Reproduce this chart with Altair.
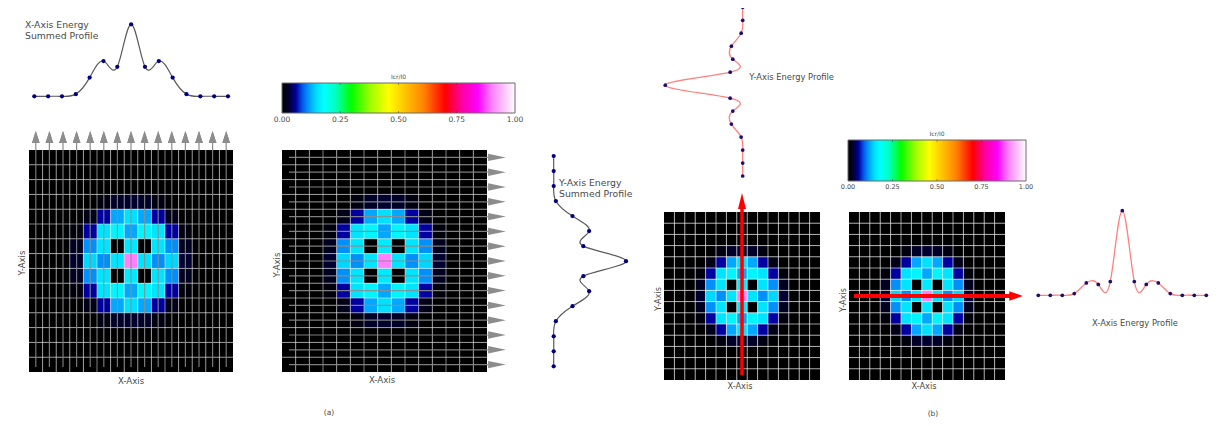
import altair as alt
import pandas as pd

# ---------- values ----------
GRID = [
 [0,0,0,0,0,0,0,0,0,0,0,0,0,0,0],
 [0,0,0,0,0,0,0,0,0,0,0,0,0,0,0],
 [0,0,0,0,0,0,0,0,0,0,0,0,0,0,0],
 [0,0,0,0,0,.01,.025,.03,.025,.01,0,0,0,0,0],
 [0,0,0,0,.015,.06,.12,.15,.12,.06,.015,0,0,0,0],
 [0,0,0,.008,.06,.155,.17,.12,.17,.155,.06,.008,0,0,0],
 [0,0,0,.02,.11,.155,0,.16,0,.155,.11,.02,0,0,0],
 [0,0,0,.03,.145,.11,.155,.90,.155,.11,.145,.03,0,0,0],
 [0,0,0,.02,.11,.155,0,.16,0,.155,.11,.02,0,0,0],
 [0,0,0,.008,.06,.155,.17,.12,.17,.155,.06,.008,0,0,0],
 [0,0,0,0,.015,.06,.12,.15,.12,.06,.015,0,0,0,0],
 [0,0,0,0,0,.01,.025,.03,.025,.01,0,0,0,0,0],
 [0,0,0,0,0,0,0,0,0,0,0,0,0,0,0],
 [0,0,0,0,0,0,0,0,0,0,0,0,0,0,0],
 [0,0,0,0,0,0,0,0,0,0,0,0,0,0,0],
]
SUMMED = [0,0,0,.03,.26,.49,.41,1,.41,.49,.26,.03,0,0,0]
CENTRE = [0,0,0,.02,.146,.128,.162,1,.162,.128,.146,.02,0,0,0]
INDEX = list(range(15))
CB_TICKS = [0, .25, .5, .75, 1]
CB_LABELS = ["0.00", "0.25", "0.50", "0.75", "1.00"]
CMAP_AT = [0,.03,.06,.09,.12,.15,.18,.23,.297,.38,.457,.61,.70,.77,.84,.90,1]
CMAP_COL = ["#000000","#000030","#0000a0","#0060f0","#00a8ff","#00e0ff","#00ffff","#00ffc0",
            "#00ff00","#a0ff00","#ffff00","#ff8000","#ff0000","#ff00a0","#ff00ff","#ff80ff","#ffffff"]
FONT = "DejaVu Sans"
TEXTC = "#4a4a4a"
OFF = 8


def P(v):
    return v - OFF


def xs(a, b, dom=(0, 15)):
    return alt.Scale(domain=list(dom), range=[P(a), P(b)], nice=False, zero=False)


layers = []
cells = pd.DataFrame([{"c": c, "c2": c + 1, "r": r, "r2": r + 1, "v": float(GRID[r][c])}
                      for r in INDEX for c in INDEX])
bounds = pd.DataFrame({"b": list(range(16))})
centres = pd.DataFrame({"m": [i + .5 for i in INDEX]})
middle = pd.DataFrame({"m": [7.5]})
color = alt.Color("v:Q", legend=None, scale=alt.Scale(domain=CMAP_AT, range=CMAP_COL, interpolate="rgb"))
gradient = alt.Gradient(gradient="linear", x1=0, x2=1, y1=0, y2=0,
                        stops=[alt.GradientStop(color=c, offset=o) for o, c in zip(CMAP_AT, CMAP_COL)])


def heat(x0, x1, y0, y1, lw=1.0, op=.5):
    X = xs(x0, x1)
    Y = xs(y0, y1)
    layers.append(alt.Chart(cells).mark_rect(strokeWidth=0, opacity=1).encode(
        x=alt.X("c:Q", scale=X, axis=None), x2="c2:Q",
        y=alt.Y("r:Q", scale=Y, axis=None), y2="r2:Q", color=color))
    layers.append(alt.Chart(bounds[1:-1]).mark_rule(color="#ffffff", opacity=op, strokeWidth=lw).encode(
        x=alt.X("b:Q", scale=X, axis=None), y=alt.value(P(y0)), y2=alt.value(P(y1))))
    layers.append(alt.Chart(bounds[1:-1]).mark_rule(color="#ffffff", opacity=op, strokeWidth=lw).encode(
        y=alt.Y("b:Q", scale=Y, axis=None), x=alt.value(P(x0)), x2=alt.value(P(x1))))


def up_arrows(data, x0, x1, y_tail, y_stem, y_head, col, w, path, size, op=1):
    X = xs(x0, x1)
    layers.append(alt.Chart(data).mark_rule(color=col, strokeWidth=w, opacity=op).encode(
        x=alt.X("m:Q", scale=X, axis=None), y=alt.value(P(y_tail)), y2=alt.value(P(y_stem))))
    layers.append(alt.Chart(data).mark_point(shape=path, filled=True, color=col, size=size, opacity=1).encode(
        x=alt.X("m:Q", scale=X, axis=None), y=alt.value(P(y_head))))


def right_arrows(data, y0, y1, x_tail, x_stem, x_head, col, w, path, size, op=1):
    Y = xs(y0, y1)
    layers.append(alt.Chart(data).mark_rule(color=col, strokeWidth=w, opacity=op).encode(
        y=alt.Y("m:Q", scale=Y, axis=None), x=alt.value(P(x_tail)), x2=alt.value(P(x_stem))))
    layers.append(alt.Chart(data).mark_point(shape=path, filled=True, color=col, size=size, opacity=1).encode(
        y=alt.Y("m:Q", scale=Y, axis=None), x=alt.value(P(x_head))))


def profile_h(vals, x0, x1, ybase, ypeak, lc, dc, ds, lw):
    df = pd.DataFrame({"i": INDEX, "v": vals})
    X = xs(x0, x1, (0, 14))
    Y = xs(ybase, ypeak, (0, 1))
    layers.append(alt.Chart(df).mark_line(interpolate="natural", color=lc, strokeWidth=lw).encode(
        x=alt.X("i:Q", scale=X, axis=None), y=alt.Y("v:Q", scale=Y, axis=None), order="i:Q"))
    layers.append(alt.Chart(df).mark_circle(color=dc, size=ds, opacity=1).encode(
        x=alt.X("i:Q", scale=X, axis=None), y=alt.Y("v:Q", scale=Y, axis=None)))


def profile_v(vals, y0, y1, xbase, xpeak, lc, dc, ds, lw):
    df = pd.DataFrame({"i": INDEX, "v": vals})
    Y = xs(y0, y1, (0, 14))
    X = xs(xbase, xpeak, (0, 1))
    layers.append(alt.Chart(df).mark_line(interpolate="natural", color=lc, strokeWidth=lw).encode(
        x=alt.X("v:Q", scale=X, axis=None), y=alt.Y("i:Q", scale=Y, axis=None), order="i:Q"))
    layers.append(alt.Chart(df).mark_circle(color=dc, size=ds, opacity=1).encode(
        x=alt.X("v:Q", scale=X, axis=None), y=alt.Y("i:Q", scale=Y, axis=None)))


def label(t, x, y, size, angle=0, align="center", col=TEXTC):
    layers.append(alt.Chart(pd.DataFrame({"t": [t]})).mark_text(
        font=FONT, fontSize=size, color=col, angle=angle, align=align, baseline="middle").encode(
        x=alt.value(P(x)), y=alt.value(P(y)), text="t:N"))


def colorbar(x0, x1, y0, y1, ylab, ytitle, size, tsize):
    X = xs(x0, x1, (0, 1))
    box = pd.DataFrame({"a": [0], "b": [1]})
    layers.append(alt.Chart(box).mark_rect(fill=gradient, stroke="#6a6a6a", strokeWidth=1).encode(
        x=alt.X("a:Q", scale=X, axis=None), x2="b:Q", y=alt.value(P(y0)), y2=alt.value(P(y1))))
    ticks = pd.DataFrame({"v": CB_TICKS, "t": CB_LABELS})
    layers.append(alt.Chart(ticks[1:-1]).mark_rule(color="#333333", opacity=.6, strokeWidth=.7).encode(
        x=alt.X("v:Q", scale=X, axis=None), y=alt.value(P(y0)), y2=alt.value(P(y0 + 2))))
    layers.append(alt.Chart(ticks[1:-1]).mark_rule(color="#333333", opacity=.6, strokeWidth=.7).encode(
        x=alt.X("v:Q", scale=X, axis=None), y=alt.value(P(y1 - 2)), y2=alt.value(P(y1))))
    layers.append(alt.Chart(ticks).mark_text(font=FONT, fontSize=size, color=TEXTC, baseline="middle").encode(
        x=alt.X("v:Q", scale=X, axis=None), y=alt.value(P(ylab)), text="t:N"))
    label("Icr/I0", (x0 + x1) / 2, ytitle, tsize)


UP = "M -0.64 1 L 0.64 1 L 0 -1 Z"
RIGHT = "M -1 -0.42 L 1 0 L -1 0.42 Z"
RED_UP = "M -0.5 1 L 0.5 1 L 0 -1 Z"
RED_RIGHT = "M -1 -0.72 L 1 0 L -1 0.72 Z"

# (a) left panel
up_arrows(centres, 29, 233, 367, 142, 137, "#8c8c8c", 1.2, UP, 144)
heat(29, 233, 150, 372)
up_arrows(centres, 29, 233, 367, 150, 137, "#8c8c8c", 1.2, UP, 144, op=.85)
profile_h(SUMMED, 34.3, 228, 96.3, 24.3, "#5a5a5a", "#000080", 18, 1.2)
label("X-Axis Energy", 25, 25, 9.3, align="left")
label("Summed Profile", 25, 35.5, 9.3, align="left")
label("X-Axis", 131, 381, 8.6)
label("Y-Axis", 22, 263, 8.6, angle=270)

# (a) right panel
colorbar(282, 515, 83, 113, 120, 76.5, 7.5, 6)
heat(282, 487, 150, 372)
right_arrows(centres, 150, 372, 289, 492, 497, "#8c8c8c", 1.2, RIGHT, 313, op=.9)
profile_v(SUMMED, 156, 366.3, 553.7, 626, "#5a5a5a", "#000080", 18, 1.2)
label("Y-Axis Energy", 559, 183, 9.3, align="left")
label("Summed Profile", 559, 194, 9.3, align="left")
label("X-Axis", 382, 380, 8.6)
label("Y-Axis", 277, 265, 8.6, angle=270)
label("(a)", 329, 413, 7.5)

# (b) left panel
heat(664, 820, 212, 380, op=.6)
up_arrows(middle, 664, 820, 375, 205, 201, "#ff0000", 3.5, RED_UP, 256)
profile_v(CENTRE, -5.7, 176, 742.7, 665.3, "#ff8080", "#1c0f6e", 14, 1.3)
label("Y-Axis Energy Profile", 749.3, 77, 8.35, align="left")
label("X-Axis", 740, 387, 8.2)
label("Y-Axis", 659, 299, 8.2, angle=270)

# (b) right panel
colorbar(848, 1026, 140, 181, 187, 133.5, 6.5, 6)
heat(849, 1005, 212, 380, op=.6)
right_arrows(middle, 212, 380, 854, 1012, 1016, "#ff0000", 4, RED_RIGHT, 182)
profile_h(CENTRE, 1038.3, 1206.3, 295.3, 210.7, "#ff8080", "#1c0f6e", 14, 1.3)
label("X-Axis Energy Profile", 1092, 323, 8.35, align="left")
label("X-Axis", 924, 387, 8.2)
label("Y-Axis", 844, 300, 8.2, angle=270)
label("(b)", 933, 414, 7.5)

chart = alt.layer(*layers).resolve_scale(x="independent", y="independent").properties(
    width=1208, height=410, padding=0,
    autosize=alt.AutoSizeParams(type="none"),
).configure_view(stroke=None)
chart.save("out.html", embed_options={"renderer": "svg", "actions": False})
